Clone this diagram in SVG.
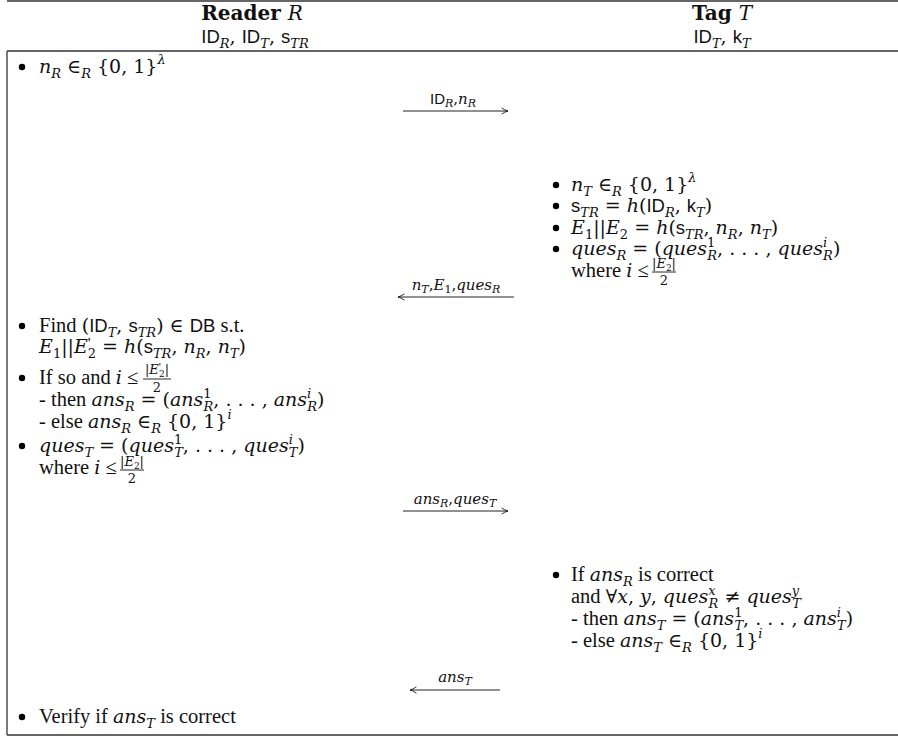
<svg xmlns="http://www.w3.org/2000/svg" width="898" height="737" viewBox="0 0 898 737">
<style>
text{font-family:"DejaVu Serif","Liberation Serif",serif;font-size:19px;fill:#111}
.i{font-style:italic}
.tx{font-family:"Liberation Serif",serif;font-size:20.5px;font-style:normal}
.sf{font-family:"Liberation Sans","DejaVu Sans",sans-serif;font-style:normal;font-size:18.5px}
.hd{font-family:"DejaVu Serif","Liberation Serif",serif;font-weight:bold;font-size:20px}
.s{font-size:13px}
.pr{font-family:"Liberation Sans",sans-serif;font-size:15px;font-style:normal}
.lab{font-size:15px}
.lab .s{font-size:11px}
.lab .sf{font-size:15px}
.c{text-anchor:middle}
.frame{stroke:#333;stroke-width:1.3;fill:none}
.arr{stroke:#222;stroke-width:1;fill:none}
.fr{stroke:#111;stroke-width:0.9}
</style>
<defs>
<marker id="hd" viewBox="0 0 10 10" refX="9" refY="5" markerWidth="8" markerHeight="8" markerUnits="userSpaceOnUse" orient="auto">
<path d="M1,1 Q5,4 9,5 Q5,6 1,9" fill="none" stroke="#222" stroke-width="1.2"/>
</marker>
</defs>
<g id="frame">
<line class="frame" x1="7" y1="1" x2="898" y2="1"/>
<line class="frame" x1="7" y1="51" x2="898" y2="51" stroke="#777" stroke-width="2"/>
<line class="frame" x1="7" y1="51" x2="7" y2="735"/>
<line class="frame" x1="7" y1="735" x2="898" y2="735"/>
</g>
<g id="header-reader">
<text x="252" y="20" class="c hd">Reader <tspan class="i" style="font-weight:normal">R</tspan></text>
<text x="255" y="43" class="c"><tspan class="sf">ID</tspan><tspan class="s i" dy="5">R</tspan><tspan dy="-5">, </tspan><tspan class="sf">ID</tspan><tspan class="s i" dy="5">T</tspan><tspan dy="-5">, </tspan><tspan class="sf">s</tspan><tspan class="s i" dy="5">TR</tspan></text>
</g>
<g id="header-tag">
<text x="722" y="20" class="c hd">Tag <tspan class="i" style="font-weight:normal">T</tspan></text>
<text x="722" y="43" class="c"><tspan class="sf">ID</tspan><tspan class="s i" dy="5">T</tspan><tspan dy="-5">, </tspan><tspan class="sf">k</tspan><tspan class="s i" dy="5">T</tspan></text>
</g>
<g id="reader-step1">
<circle cx="22" cy="67" r="3.2"/>
<text x="39" y="73"><tspan class="i">n</tspan><tspan class="s i" dy="5">R</tspan><tspan dy="-5"> ∈</tspan><tspan class="s i" dy="5">R</tspan><tspan dy="-5"> {0, 1}</tspan><tspan class="s i" dy="-9">λ</tspan></text>
</g>
<g id="tag-step1">
<circle cx="556" cy="185" r="3.2"/>
<text x="571" y="191"><tspan class="i">n</tspan><tspan class="s i" dy="5">T</tspan><tspan dy="-5"> ∈</tspan><tspan class="s i" dy="5">R</tspan><tspan dy="-5"> {0, 1}</tspan><tspan class="s i" dy="-9">λ</tspan></text>
<circle cx="556" cy="206" r="3.2"/>
<text x="571" y="212"><tspan class="sf">s</tspan><tspan class="s i" dy="5">TR</tspan><tspan dy="-5"> = </tspan><tspan class="i">h</tspan>(<tspan class="sf">ID</tspan><tspan class="s i" dy="5">R</tspan><tspan dy="-5">, </tspan><tspan class="sf">k</tspan><tspan class="s i" dy="5">T</tspan><tspan dy="-5">)</tspan></text>
<circle cx="556" cy="228" r="3.2"/>
<text x="571" y="234"><tspan class="i">E</tspan><tspan class="s" dy="5">1</tspan><tspan dy="-5">||</tspan><tspan class="i">E</tspan><tspan class="s" dy="5">2</tspan><tspan dy="-5"> = </tspan><tspan class="i">h</tspan>(<tspan class="sf">s</tspan><tspan class="s i" dy="5">TR</tspan><tspan dy="-5">, </tspan><tspan class="i">n</tspan><tspan class="s i" dy="5">R</tspan><tspan dy="-5">, </tspan><tspan class="i">n</tspan><tspan class="s i" dy="5">T</tspan><tspan dy="-5">)</tspan></text>
<circle cx="556" cy="249" r="3.2"/>
<text x="571" y="255"><tspan class="i">ques</tspan><tspan class="s i" dy="5">R</tspan><tspan dy="-5"> = (</tspan><tspan class="i">ques</tspan><tspan class="s" dy="-8">1</tspan><tspan class="s i" dx="-8" dy="13">R</tspan><tspan dy="-5">, . . . , </tspan><tspan class="i">ques</tspan><tspan class="s i" dy="-8">i</tspan><tspan class="s i" dx="-4" dy="13">R</tspan><tspan dy="-5">)</tspan></text>
<text x="571" y="277"><tspan class="tx">where </tspan><tspan class="i">i</tspan><tspan class="tx"> ≤</tspan></text>
<text x="664" y="268" class="c s"><tspan>|</tspan><tspan class="i">E</tspan><tspan style="font-size:9px" dy="3">2</tspan><tspan dy="-3">|</tspan></text>
<line class="fr" x1="652" y1="272" x2="676" y2="272"/>
<text x="664" y="285" class="c s">2</text>
</g>
<g id="reader-step2">
<circle cx="22" cy="326" r="3.2"/>
<text x="39" y="332"><tspan class="tx">Find </tspan>(<tspan class="sf">ID</tspan><tspan class="s i" dy="5">T</tspan><tspan dy="-5">, </tspan><tspan class="sf">s</tspan><tspan class="s i" dy="5">TR</tspan><tspan dy="-5">) ∈ </tspan><tspan class="sf">DB</tspan><tspan class="tx"> s.t.</tspan></text>
<text x="39" y="353"><tspan class="i">E</tspan><tspan class="s" dy="5">1</tspan><tspan dy="-5">||</tspan><tspan class="i">E</tspan><tspan class="pr" dy="-5">'</tspan><tspan class="s" dx="-3" dy="10">2</tspan><tspan dy="-5"> = </tspan><tspan class="i">h</tspan>(<tspan class="sf">s</tspan><tspan class="s i" dy="5">TR</tspan><tspan dy="-5">, </tspan><tspan class="i">n</tspan><tspan class="s i" dy="5">R</tspan><tspan dy="-5">, </tspan><tspan class="i">n</tspan><tspan class="s i" dy="5">T</tspan><tspan dy="-5">)</tspan></text>
<circle cx="22" cy="378" r="3.2"/>
<text x="39" y="384"><tspan class="tx">If so and </tspan><tspan class="i">i</tspan><tspan class="tx"> ≤</tspan></text>
<text x="157" y="374" class="c s"><tspan>|</tspan><tspan class="i">E</tspan><tspan style="font-family:'Liberation Sans',sans-serif;font-size:11px;font-style:normal" dy="-3">'</tspan><tspan style="font-size:9px" dx="-2" dy="6">2</tspan><tspan dy="-3">|</tspan></text>
<line class="fr" x1="143" y1="379" x2="171" y2="379"/>
<text x="157" y="392" class="c s">2</text>
<text x="39" y="406"><tspan class="tx">- then </tspan><tspan class="i">ans</tspan><tspan class="s i" dy="5">R</tspan><tspan dy="-5"> = (</tspan><tspan class="i">ans</tspan><tspan class="s" dy="-8">1</tspan><tspan class="s i" dx="-8" dy="13">R</tspan><tspan dy="-5">, . . . , </tspan><tspan class="i">ans</tspan><tspan class="s i" dy="-8">i</tspan><tspan class="s i" dx="-4" dy="13">R</tspan><tspan dy="-5">)</tspan></text>
<text x="39" y="428"><tspan class="tx">- else </tspan><tspan class="i">ans</tspan><tspan class="s i" dy="5">R</tspan><tspan dy="-5"> ∈</tspan><tspan class="s i" dy="5">R</tspan><tspan dy="-5"> {0, 1}</tspan><tspan class="s i" dy="-9">i</tspan></text>
<circle cx="22" cy="446" r="3.2"/>
<text x="39" y="452"><tspan class="i">ques</tspan><tspan class="s i" dy="5">T</tspan><tspan dy="-5"> = (</tspan><tspan class="i">ques</tspan><tspan class="s" dy="-8">1</tspan><tspan class="s i" dx="-8" dy="13">T</tspan><tspan dy="-5">, . . . , </tspan><tspan class="i">ques</tspan><tspan class="s i" dy="-8">i</tspan><tspan class="s i" dx="-4" dy="13">T</tspan><tspan dy="-5">)</tspan></text>
<text x="39" y="474"><tspan class="tx">where </tspan><tspan class="i">i</tspan><tspan class="tx"> ≤</tspan></text>
<text x="132" y="466" class="c s"><tspan>|</tspan><tspan class="i">E</tspan><tspan style="font-size:9px" dy="3">2</tspan><tspan dy="-3">|</tspan></text>
<line class="fr" x1="120" y1="470" x2="144" y2="470"/>
<text x="132" y="483" class="c s">2</text>
</g>
<g id="tag-step2">
<circle cx="556" cy="575" r="3.2"/>
<text x="571" y="581"><tspan class="tx">If </tspan><tspan class="i">ans</tspan><tspan class="s i" dy="5">R</tspan><tspan class="tx" dy="-5"> is correct</tspan></text>
<text x="571" y="603"><tspan class="tx">and </tspan>∀<tspan class="i">x</tspan>, <tspan class="i">y</tspan>, <tspan class="i">ques</tspan><tspan class="s i" dy="-8">x</tspan><tspan class="s i" dx="-7" dy="13">R</tspan><tspan dy="-5"> ≠ </tspan><tspan class="i">ques</tspan><tspan class="s i" dy="-8">y</tspan><tspan class="s i" dx="-7" dy="13">T</tspan></text>
<text x="571" y="625"><tspan class="tx">- then </tspan><tspan class="i">ans</tspan><tspan class="s i" dy="5">T</tspan><tspan dy="-5"> = (</tspan><tspan class="i">ans</tspan><tspan class="s" dy="-8">1</tspan><tspan class="s i" dx="-8" dy="13">T</tspan><tspan dy="-5">, . . . , </tspan><tspan class="i">ans</tspan><tspan class="s i" dy="-8">i</tspan><tspan class="s i" dx="-4" dy="13">T</tspan><tspan dy="-5">)</tspan></text>
<text x="571" y="647"><tspan class="tx">- else </tspan><tspan class="i">ans</tspan><tspan class="s i" dy="5">T</tspan><tspan dy="-5"> ∈</tspan><tspan class="s i" dy="5">R</tspan><tspan dy="-5"> {0, 1}</tspan><tspan class="s i" dy="-9">i</tspan></text>
</g>
<g id="reader-step3">
<circle cx="22" cy="717" r="3.2"/>
<text x="39" y="723"><tspan class="tx">Verify if </tspan><tspan class="i">ans</tspan><tspan class="s i" dy="5">T</tspan><tspan class="tx" dy="-5"> is correct</tspan></text>
</g>
<g id="connectors">
<line class="arr" x1="403" y1="111" x2="508" y2="111" marker-end="url(#hd)"/>
<text x="453" y="104" class="c lab"><tspan class="sf">ID</tspan><tspan class="s i" dy="3">R</tspan><tspan dy="-3">,</tspan><tspan class="i">n</tspan><tspan class="s i" dy="3">R</tspan></text>
<line class="arr" x1="514" y1="297" x2="398" y2="297" marker-end="url(#hd)"/>
<text x="456" y="290" class="c lab"><tspan class="i">n</tspan><tspan class="s i" dy="3">T</tspan><tspan dy="-3">,</tspan><tspan class="i">E</tspan><tspan class="s" dy="3">1</tspan><tspan dy="-3">,</tspan><tspan class="i">ques</tspan><tspan class="s i" dy="3">R</tspan></text>
<line class="arr" x1="403" y1="511" x2="508" y2="511" marker-end="url(#hd)"/>
<text x="455" y="504" class="c lab"><tspan class="i">ans</tspan><tspan class="s i" dy="3">R</tspan><tspan dy="-3">,</tspan><tspan class="i">ques</tspan><tspan class="s i" dy="3">T</tspan></text>
<line class="arr" x1="500" y1="690" x2="410" y2="690" marker-end="url(#hd)"/>
<text x="455" y="682" class="c lab"><tspan class="i">ans</tspan><tspan class="s i" dy="3">T</tspan></text>
</g>
</svg>
